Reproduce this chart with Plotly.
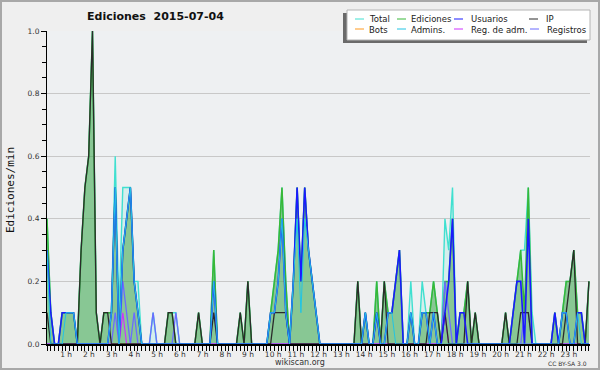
import plotly.graph_objects as go

# ---- data: edits per minute, in 10-minute slots (6 per hour, 24 hours) ----
hours = list(range(24))
slot_minutes = [0, 10, 20, 30, 40, 50]
hour_labels = [f"{h} h" for h in range(1, 24)]

total = [
    .4, .1, 0, 0, .1, .1,
    .1, .1, 0, .3, .5, .6,
    1.0, .1, 0, .1, .1, .1,
    .6, .1, .5, .5, .5, .2,
    .2, 0, 0, 0, .1, 0,
    0, 0, .1, .1, .1, 0,
    0, 0, 0, 0, .1, 0,
    0, 0, .3, 0, 0, 0,
    0, 0, 0, .1, 0, .2,
    0, 0, 0, 0, 0, .1,
    .2, .3, .5, .2, 0, .2,
    .5, .2, .5, .3, .2, .1,
    0, 0, 0, 0, 0, 0,
    0, 0, 0, 0, .2, 0,
    .1, 0, 0, .2, 0, .2,
    .1, .1, .2, .3, 0, 0,
    .2, 0, 0, .2, .1, .1,
    .2, .1, 0, .4, .3, .5,
    0, .1, .1, .2, 0, .1,
    0, 0, 0, 0, 0, 0,
    0, .1, 0, .1, .2, .3,
    .3, .5, .1, 0, 0, 0,
    0, 0, .1, 0, .1, .2,
    .2, .3, .1, .1, 0, .2,
]

ediciones = [
    .4, .1, 0, 0, .1, .1,
    .1, .1, 0, .3, .5, .6,
    1.0, .1, 0, .1, .1, .1,
    .5, 0, .3, .4, .5, .2,
    .1, 0, 0, 0, 0, 0,
    0, 0, .1, .1, 0, 0,
    0, 0, 0, 0, .1, 0,
    0, 0, .3, 0, 0, 0,
    0, 0, 0, .1, 0, .2,
    0, 0, 0, 0, 0, .1,
    .2, .3, .5, .2, 0, .2,
    .5, .2, .5, .3, .2, .1,
    0, 0, 0, 0, 0, 0,
    0, 0, 0, 0, .2, 0,
    .1, 0, 0, .2, 0, .2,
    .1, .1, .2, .3, 0, 0,
    .1, 0, 0, .1, .1, .1,
    .2, .1, 0, .2, .2, .4,
    0, .1, .1, .2, 0, .1,
    0, 0, 0, 0, 0, 0,
    0, .1, 0, .1, .2, .3,
    .1, .5, 0, 0, 0, 0,
    0, 0, .1, 0, .1, .2,
    .2, .3, .1, .1, 0, .2,
]

usuarios = [
    .3, .1, 0, 0, .1, .1,
    .1, .1, 0, 0, 0, 0,
    0, 0, 0, 0, 0, .1,
    .5, 0, .3, .4, .5, .2,
    .1, 0, 0, 0, 0, 0,
    0, 0, 0, 0, 0, 0,
    0, 0, 0, 0, 0, 0,
    0, 0, .2, 0, 0, 0,
    0, 0, 0, 0, 0, 0,
    0, 0, 0, 0, 0, .1,
    .1, .2, .4, .1, 0, .2,
    .5, .2, .5, .3, .2, .1,
    0, 0, 0, 0, 0, 0,
    0, 0, 0, 0, 0, 0,
    .1, 0, 0, .1, 0, 0,
    .1, .1, .2, .3, 0, 0,
    .1, 0, 0, .1, .1, 0,
    .1, 0, 0, .1, .2, .4,
    0, .1, .1, 0, 0, 0,
    0, 0, 0, 0, 0, 0,
    0, 0, 0, .1, .2, .2,
    0, .4, 0, 0, 0, 0,
    0, 0, .1, 0, .1, .1,
    0, 0, .1, .1, 0, 0,
]

ip = [
    .1, 0, 0, 0, 0, 0,
    0, 0, 0, .3, .5, .6,
    1.0, .1, 0, .1, .1, 0,
    0, 0, 0, 0, 0, 0,
    0, 0, 0, 0, 0, 0,
    0, 0, .1, .1, 0, 0,
    0, 0, 0, 0, .1, 0,
    0, 0, .1, 0, 0, 0,
    0, 0, 0, .1, 0, .2,
    0, 0, 0, 0, 0, 0,
    .1, .1, .1, .1, 0, 0,
    0, 0, 0, 0, 0, 0,
    0, 0, 0, 0, 0, 0,
    0, 0, 0, 0, .2, 0,
    0, 0, 0, .1, 0, .2,
    0, 0, 0, 0, 0, 0,
    0, 0, 0, 0, 0, .1,
    .1, .1, 0, .1, 0, 0,
    0, 0, 0, .2, 0, .1,
    0, 0, 0, 0, 0, 0,
    0, .1, 0, 0, 0, .1,
    .1, .1, 0, 0, 0, 0,
    0, 0, 0, 0, 0, .1,
    .2, .3, 0, 0, 0, .2,
]

admins = [
    .3, 0, 0, 0, 0, .1,
    .1, .1, 0, 0, 0, 0,
    0, 0, 0, 0, 0, .1,
    .5, 0, .3, .4, .5, .2,
    .1, 0, 0, 0, 0, 0,
    0, 0, 0, 0, 0, 0,
    0, 0, 0, 0, 0, 0,
    0, 0, .2, 0, 0, 0,
    0, 0, 0, 0, 0, 0,
    0, 0, 0, 0, 0, .1,
    .1, .2, .4, .1, 0, .2,
    .4, .1, .4, .3, .2, .1,
    0, 0, 0, 0, 0, 0,
    0, 0, 0, 0, 0, 0,
    .1, 0, 0, .1, 0, 0,
    .1, .1, 0, 0, 0, 0,
    .1, 0, 0, .1, .1, 0,
    .1, 0, 0, 0, 0, 0,
    0, 0, 0, 0, 0, 0,
    0, 0, 0, 0, 0, 0,
    0, 0, 0, 0, 0, 0,
    0, 0, 0, 0, 0, 0,
    0, 0, 0, 0, .1, .1,
    0, 0, .1, 0, 0, 0,
]

registros = [
    0, 0, 0, 0, 0, 0,
    0, 0, 0, 0, 0, 0,
    0, 0, 0, 0, 0, 0,
    .1, 0, .2, .1, 0, .1,
    0, 0, 0, 0, .1, 0,
    0, 0, 0, 0, .1, 0,
    0, 0, 0, 0, 0, 0,
    0, 0, 0, 0, 0, 0,
    0, 0, 0, 0, 0, 0,
    0, 0, 0, 0, 0, 0,
    0, 0, 0, 0, 0, 0,
    0, 0, 0, 0, 0, 0,
    0, 0, 0, 0, 0, 0,
    0, 0, 0, 0, 0, 0,
    0, 0, 0, 0, 0, 0,
    0, 0, 0, 0, 0, 0,
    0, 0, 0, 0, 0, 0,
    0, 0, 0, .2, .1, 0,
    0, 0, 0, 0, 0, 0,
    0, 0, 0, 0, 0, 0,
    0, 0, 0, 0, 0, 0,
    .1, .1, 0, 0, 0, 0,
    0, 0, 0, 0, 0, 0,
    0, 0, 0, 0, 0, 0,
]

reg_adm = [0] * 144
reg_adm_slots = {20: .1, 105: .1}   # slot index -> value
bots = [0] * 144                     # no bot activity that day

series_names = ["Total", "Ediciones", "Usuarios", "IP",
                "Bots", "Admins.", "Reg. de adm.", "Registros"]
series_colors = {
    "Total": "#40e0d0", "Ediciones": "#38b838", "Usuarios": "#1a1aff",
    "IP": "#2b2b2b", "Bots": "#ff9a20", "Admins.": "#22c4e4",
    "Reg. de adm.": "#cc33ff", "Registros": "#6b6bff",
}

# ---- build ----
for k, v in reg_adm_slots.items():
    reg_adm[k] = v

x = [h + m / 60 for h in hours for m in slot_minutes]

W, H = 600, 370
L, R, T, B = 47, 10, 31, 26
PW, PH = W - L - R, H - T - B


def px_x(px):
    return (px - L) / PW


def px_y(py):
    return (H - B - py) / PH


fig = go.Figure()
fig.add_trace(go.Scatter(x=x, y=total, name="Total", mode="lines",
                         line=dict(color=series_colors["Total"], width=1.4),
                         fill="tozeroy", fillcolor="rgba(64,224,208,0.14)"))
fig.add_trace(go.Scatter(x=x, y=ediciones, name="Ediciones", mode="lines",
                         line=dict(color=series_colors["Ediciones"], width=1.5),
                         fill="tozeroy", fillcolor="rgba(60,160,60,0.5)"))
fig.add_trace(go.Scatter(x=x, y=bots, name="Bots", mode="lines",
                         line=dict(color=series_colors["Bots"], width=1.2)))
fig.add_trace(go.Scatter(x=x, y=registros, name="Registros", mode="lines",
                         line=dict(color=series_colors["Registros"], width=1.3)))
fig.add_trace(go.Scatter(x=x, y=reg_adm, name="Reg. de adm.", mode="lines",
                         line=dict(color=series_colors["Reg. de adm."], width=1.2)))
fig.add_trace(go.Scatter(x=x, y=ip, name="IP", mode="lines",
                         line=dict(color=series_colors["IP"], width=1.3)))
fig.add_trace(go.Scatter(x=x, y=usuarios, name="Usuarios", mode="lines",
                         line=dict(color=series_colors["Usuarios"], width=1.6)))
fig.add_trace(go.Scatter(x=x, y=admins, name="Admins.", mode="lines",
                         line=dict(color=series_colors["Admins."], width=1.0)))

ticktext = [lab + ("\u00a0\u00a0\u00a0" if len(lab) == 3 else "\u00a0") for lab in hour_labels]

fig.update_layout(
    width=W, height=H,
    margin=dict(l=L, r=R, t=T, b=B, pad=0),
    paper_bgcolor="#efefef", plot_bgcolor="#eef0f2",
    showlegend=False,
    font=dict(family="DejaVu Sans", size=8, color="#333333"),
    xaxis=dict(range=[0, 23.88], tickmode="array", tickvals=list(range(1, 24)),
               ticktext=ticktext, ticks="outside", ticklen=5, tickwidth=1,
               tickcolor="black", showline=True, linecolor="black", linewidth=1.5,
               showgrid=False, zeroline=False, tickfont=dict(size=7.5, color="#333"),
               ticklabelstandoff=-3,
               minor=dict(dtick=1 / 6, tick0=0, ticks="outside", ticklen=5,
                          tickcolor="black", tickwidth=1, showgrid=False)),
    yaxis=dict(range=[0, 1], dtick=0.2, tick0=0, tickformat=".1f",
               ticks="outside", ticklen=5, tickcolor="black", tickwidth=1,
               showline=True, linecolor="black", linewidth=1,
               showgrid=True, gridcolor="#c8c8c8", gridwidth=1, zeroline=False,
               tickfont=dict(size=7.5, color="#333"),
               minor=dict(dtick=0.05, ticks="outside", ticklen=4,
                          tickcolor="black", tickwidth=1, showgrid=False)),
)

shapes = [
    # outer frame
    dict(type="rect", xref="paper", yref="paper", x0=px_x(1), x1=px_x(599),
         y0=px_y(369), y1=px_y(1), line=dict(color="#a8a8a8", width=2),
         fillcolor="rgba(0,0,0,0)", layer="above"),
    # legend shadow + box
    dict(type="rect", xref="paper", yref="paper", x0=px_x(343), x1=px_x(587),
         y0=px_y(43), y1=px_y(13), line=dict(width=0), fillcolor="#6a6a6a"),
    dict(type="rect", xref="paper", yref="paper", x0=px_x(347), x1=px_x(590),
         y0=px_y(40), y1=px_y(10), line=dict(color="#b4b4b4", width=1),
         fillcolor="white"),
]

legend_pos = {
    "Total": (355, 367, 19), "Ediciones": (397, 409, 19),
    "Usuarios": (454, 469, 19), "IP": (529, 544, 19),
    "Bots": (355, 367, 29), "Admins.": (397, 409, 29),
    "Reg. de adm.": (454, 469, 29), "Registros": (530, 545, 29),
}
annotations = []
for name in series_names:
    sx, tx, ty = legend_pos[name]
    shapes.append(dict(type="line", xref="paper", yref="paper",
                       x0=px_x(sx), x1=px_x(sx + 9), y0=px_y(ty), y1=px_y(ty),
                       line=dict(color=series_colors[name], width=1)))
    annotations.append(dict(text=name, xref="paper", yref="paper",
                            x=px_x(tx), y=px_y(ty + 0.5), xanchor="left",
                            yanchor="middle", showarrow=False,
                            font=dict(family="DejaVu Sans", size=8.5, color="#222")))

annotations += [
    dict(text="<b>Ediciones\u00a0\u00a02015-07-04</b>", xref="paper", yref="paper",
         x=px_x(85), y=px_y(16.5), xanchor="left", yanchor="middle", showarrow=False,
         font=dict(family="DejaVu Sans", size=11, color="#111")),
    dict(text="Ediciones/min", xref="paper", yref="paper", textangle=-90,
         x=px_x(10), y=px_y(190), xanchor="center", yanchor="middle", showarrow=False,
         font=dict(family="DejaVu Sans Mono", size=11, color="#111")),
    dict(text="wikiscan.org", xref="paper", yref="paper",
         x=px_x(300), y=px_y(362), xanchor="center", yanchor="middle", showarrow=False,
         font=dict(family="DejaVu Sans", size=8, color="#333")),
    dict(text="CC BY-SA 3.0", xref="paper", yref="paper",
         x=px_x(589), y=px_y(363), xanchor="right", yanchor="middle", showarrow=False,
         font=dict(family="DejaVu Sans", size=6, color="#333")),
]

fig.update_layout(shapes=shapes, annotations=annotations)
fig.write_html("out.html", config={"displayModeBar": False},
               post_script="document.body.style.margin='0px';document.body.style.overflow='hidden';")
